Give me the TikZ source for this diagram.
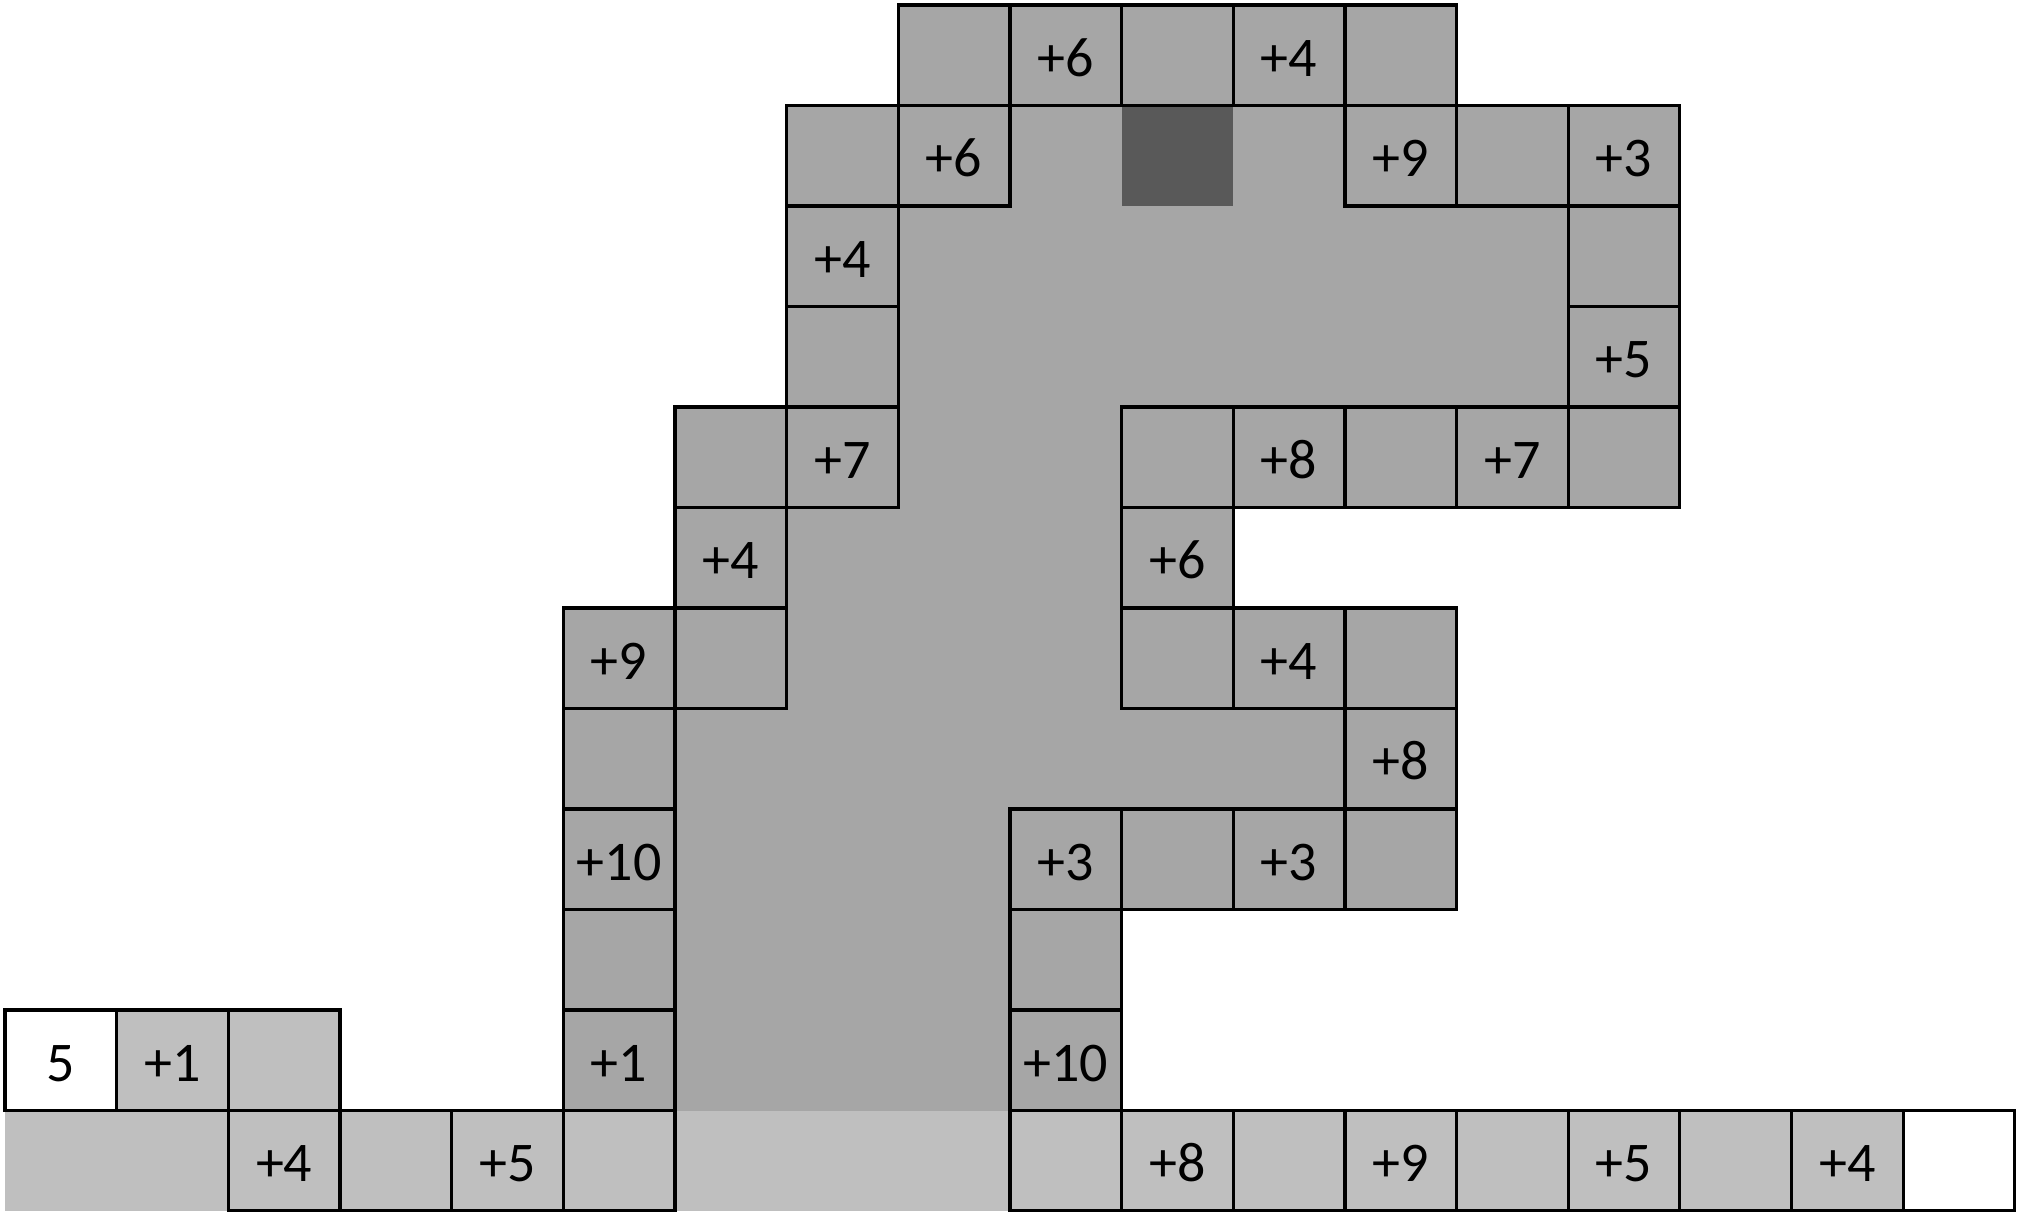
\documentclass[tikz,border=0pt]{standalone}
\usepackage{fontspec}
\setmainfont{Carlito}
\definecolor{dk}{HTML}{A6A6A6}
\definecolor{lt}{HTML}{BFBFBF}
\definecolor{dd}{HTML}{595959}
\begin{document}
\begin{tikzpicture}[x=55.83pt,y=-50.25pt,
  cellbox/.style={draw=black,line width=1.6pt,minimum width=55.83pt,minimum height=50.25pt,inner sep=0pt,outer sep=0pt,text height=21.2pt,text depth=0pt,font=\fontsize{28}{30}\selectfont},
  darkcell/.style={cellbox,fill=dk},
  lightcell/.style={cellbox,fill=lt},
  whitecell/.style={cellbox,fill=white}]
\useasboundingbox (-0.0448,-0.0498) rectangle (18.055,12.01);
% region fills
\fill[dk] (8,0) rectangle (13,1);
\fill[dk] (7,1) rectangle (15,4);
\fill[dk] (6,4) rectangle (15,5);
\fill[dk] (6,5) rectangle (11,6);
\fill[dk] (5,6) rectangle (13,9);
\fill[dk] (5,9) rectangle (10,11);
\fill[dd] (10,1) rectangle (11,2);
\fill[lt] (0,11) rectangle (17,12);
% bordered dark cells
\foreach \r/\c/\t in {0/8/{},0/9/{+6},0/10/{},0/11/{+4},0/12/{},
  1/7/{},1/8/{+6},1/12/{+9},1/13/{},1/14/{+3},
  2/7/{+4},2/14/{},
  3/7/{},3/14/{+5},
  4/6/{},4/7/{+7},4/10/{},4/11/{+8},4/12/{},4/13/{+7},4/14/{},
  5/6/{+4},5/10/{+6},
  6/5/{+9},6/6/{},6/10/{},6/11/{+4},6/12/{},
  7/5/{},7/12/{+8},
  8/5/{+10},8/9/{+3},8/10/{},8/11/{+3},8/12/{},
  9/5/{},9/9/{},
  10/5/{+1},10/9/{+10}}
  \node[darkcell] (d\r-\c) at (\c+0.5,\r+0.5) {\t};
% light cells
\foreach \r/\c/\t in {10/1/{+1},10/2/{},
  11/2/{+4},11/3/{},11/4/{+5},11/5/{},
  11/9/{},11/10/{+8},11/11/{},11/12/{+9},11/13/{},11/14/{+5},11/15/{},11/16/{+4}}
  \node[lightcell] (l\r-\c) at (\c+0.5,\r+0.5) {\t};
% white cells
\node[whitecell] (w10-0) at (0.5,10.5) {5};
\node[whitecell] (w11-17) at (17.5,11.5) {};
\end{tikzpicture}
\end{document}
